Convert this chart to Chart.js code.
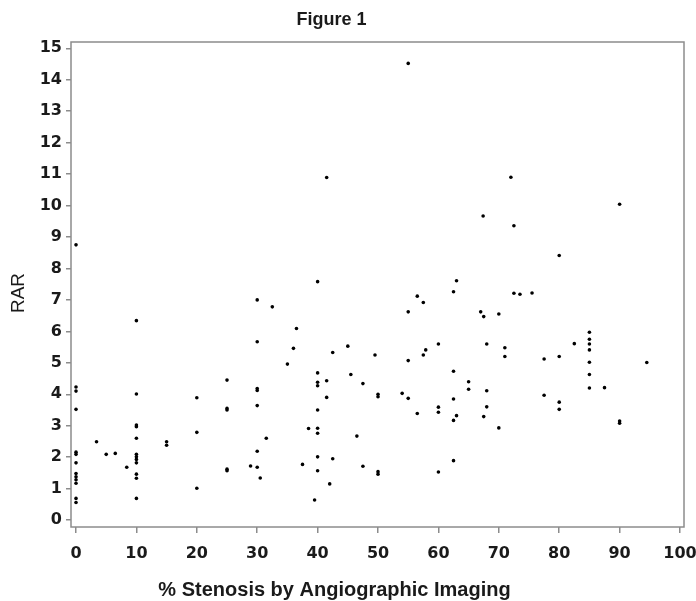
<!DOCTYPE html>
<html>
<head>
<meta charset="utf-8">
<title>Figure 1</title>
<script src="https://cdn.jsdelivr.net/npm/chart.js@4/dist/chart.umd.min.js"></script>
<style>
  html, body { margin: 0; padding: 0; background: #fff; }
  #wrap { width: 696px; height: 601px; }
</style>
</head>
<body>
<div id="wrap"><canvas id="fig1"></canvas></div>
<script>
// % stenosis (x) and RAR (y)
const stenosisPct = [
  0, 0, 0, 0, 0, 0, 0, 0, 0, 0, 0, 0, 0,
  3.4, 5, 6.5, 8.4,
  10, 10, 10, 10, 10, 10, 10, 10, 10, 10, 10, 10,
  15, 15,
  20, 20, 20,
  25, 25, 25, 25, 25,
  28.9,
  30, 30, 30, 30, 30, 30, 30,
  30.5, 31.5, 32.5, 35, 36, 36.5, 37.5, 38.5, 39.5,
  40, 40, 40, 40, 40, 40, 40, 40, 40,
  41.5, 41.5, 41.5, 42, 42.5, 42.5,
  45, 45.5, 46.5, 47.5, 47.5, 49.5,
  50, 50, 50, 50,
  54, 55, 55, 55, 55,
  56.5, 56.5, 57.5, 57.5, 57.9,
  60, 60, 60, 60,
  62.5, 62.5, 62.5, 62.5, 62.5, 63, 63,
  65, 65, 67, 67.4, 67.5, 67.5, 68, 68, 68,
  70, 70, 71, 71, 72, 72.5, 72.5, 73.5, 75.5,
  77.5, 77.5,
  80, 80, 80, 80, 82.5,
  85, 85, 85, 85, 85, 85, 85,
  87.5, 90, 90, 90, 94.5
];
const rarValues = [
  8.75, 4.23, 4.1, 3.52, 2.16, 2.09, 1.82, 1.48, 1.38, 1.28, 1.17, 0.69, 0.56,
  2.49, 2.09, 2.12, 1.68,
  6.34, 4.01, 3.02, 2.97, 2.6, 2.09, 2.01, 1.93, 1.82, 1.46, 1.33, 0.69,
  2.49, 2.38,
  3.89, 2.79, 1.01,
  4.45, 3.55, 3.5, 1.62, 1.57,
  1.72,
  7.0, 5.67, 4.18, 4.12, 3.64, 2.19, 1.68,
  1.34, 2.6, 6.78, 4.96, 5.46, 6.09, 1.77, 2.91, 0.64,
  7.58, 4.68, 4.38, 4.27, 3.5, 2.92, 2.76, 2.01, 1.57,
  10.89, 4.43, 3.9, 1.15, 5.33, 1.95,
  5.53, 4.63, 2.67, 4.34, 1.71, 5.25,
  4.0, 3.92, 1.54, 1.46,
  4.03, 14.52, 6.62, 5.07, 3.87,
  7.12, 3.39, 6.92, 5.25, 5.41,
  5.6, 3.59, 3.43, 1.53,
  7.26, 4.73, 3.85, 3.17, 1.89, 7.61, 3.32,
  4.4, 4.16, 6.62, 9.67, 6.47, 3.29, 5.6, 4.11, 3.6,
  6.55, 2.93, 5.48, 5.2, 10.9, 9.36, 7.21, 7.18, 7.22,
  5.12, 3.97,
  8.41, 5.2, 3.75, 3.52, 5.61,
  5.97, 5.75, 5.6, 5.41, 5.02, 4.63, 4.2,
  4.21, 10.04, 3.15, 3.08, 5.01
];

const xTicks = [0, 10, 20, 30, 40, 50, 60, 70, 80, 90, 100];
const yTicks = [0, 1, 2, 3, 4, 5, 6, 7, 8, 9, 10, 11, 12, 13, 14, 15];

const chartTitle = "Figure 1";
const xTitle = "% Stenosis by Angiographic Imaging";
const yTitle = "RAR";

const points = stenosisPct.map((x, i) => ({ x: x, y: rarValues[i] }));

const frameColor = "#8c8c8c";
const textColor = "#1a1a1a";

// box round the plot plus the titles, placed where the original has them
const framePlugin = {
  id: "frame",
  beforeDatasetsDraw(chart) {
    const { ctx, chartArea } = chart;
    ctx.save();
    ctx.strokeStyle = frameColor;
    ctx.lineWidth = 1.5;
    ctx.strokeRect(chartArea.left, chartArea.top,
      chartArea.right - chartArea.left, chartArea.bottom - chartArea.top);
    ctx.restore();
  },
  afterDraw(chart) {
    const ctx = chart.ctx;
    ctx.save();
    ctx.fillStyle = textColor;
    ctx.textAlign = "center";
    ctx.textBaseline = "alphabetic";

    ctx.font = "bold 18px 'Liberation Sans', Arial, sans-serif";
    ctx.fillText(chartTitle, 331.5, 25);

    ctx.font = "bold 20px 'Liberation Sans', Arial, sans-serif";
    ctx.fillText(xTitle, 334.5, 596);

    ctx.font = "19px 'Liberation Sans', Arial, sans-serif";
    ctx.translate(24, 293);
    ctx.rotate(-Math.PI / 2);
    ctx.fillText(yTitle, 0, 0);
    ctx.restore();
  }
};

const tickFont = { family: "'DejaVu Sans', sans-serif", size: 16, weight: "bold" };

new Chart(document.getElementById("fig1"), {
  type: "scatter",
  data: {
    datasets: [{
      label: yTitle,
      data: points,
      pointRadius: 1.8,
      pointHoverRadius: 1.8,
      pointBackgroundColor: "#000",
      pointBorderWidth: 0
    }]
  },
  options: {
    responsive: true,
    maintainAspectRatio: false,
    animation: false,
    layout: { padding: { top: 42, right: 12, left: 0, bottom: 0 } },
    plugins: {
      legend: { display: false },
      title: { display: false },
      tooltip: { enabled: false }
    },
    scales: {
      x: {
        type: "linear",
        min: -0.83,
        max: 100.66,
        afterBuildTicks: s => { s.ticks = xTicks.map(v => ({ value: v })); },
        afterFit: s => { s.height = 74; s.paddingLeft = 0; s.paddingRight = 0; },
        border: { display: false },
        grid: { drawOnChartArea: false, drawTicks: true, tickLength: 6, color: frameColor, lineWidth: 1.5 },
        ticks: { color: textColor, font: tickFont, padding: 11, maxRotation: 0, autoSkip: false }
      },
      y: {
        type: "linear",
        min: -0.22,
        max: 15.2,
        afterBuildTicks: s => { s.ticks = yTicks.map(v => ({ value: v })); },
        afterFit: s => { s.width = 71; s.paddingTop = 0; s.paddingBottom = 0; },
        border: { display: false },
        grid: { drawOnChartArea: false, drawTicks: true, tickLength: 5, color: frameColor, lineWidth: 1.5 },
        ticks: { color: textColor, font: tickFont, padding: 4, autoSkip: false }
      }
    }
  },
  plugins: [framePlugin]
});
</script>
</body>
</html>
